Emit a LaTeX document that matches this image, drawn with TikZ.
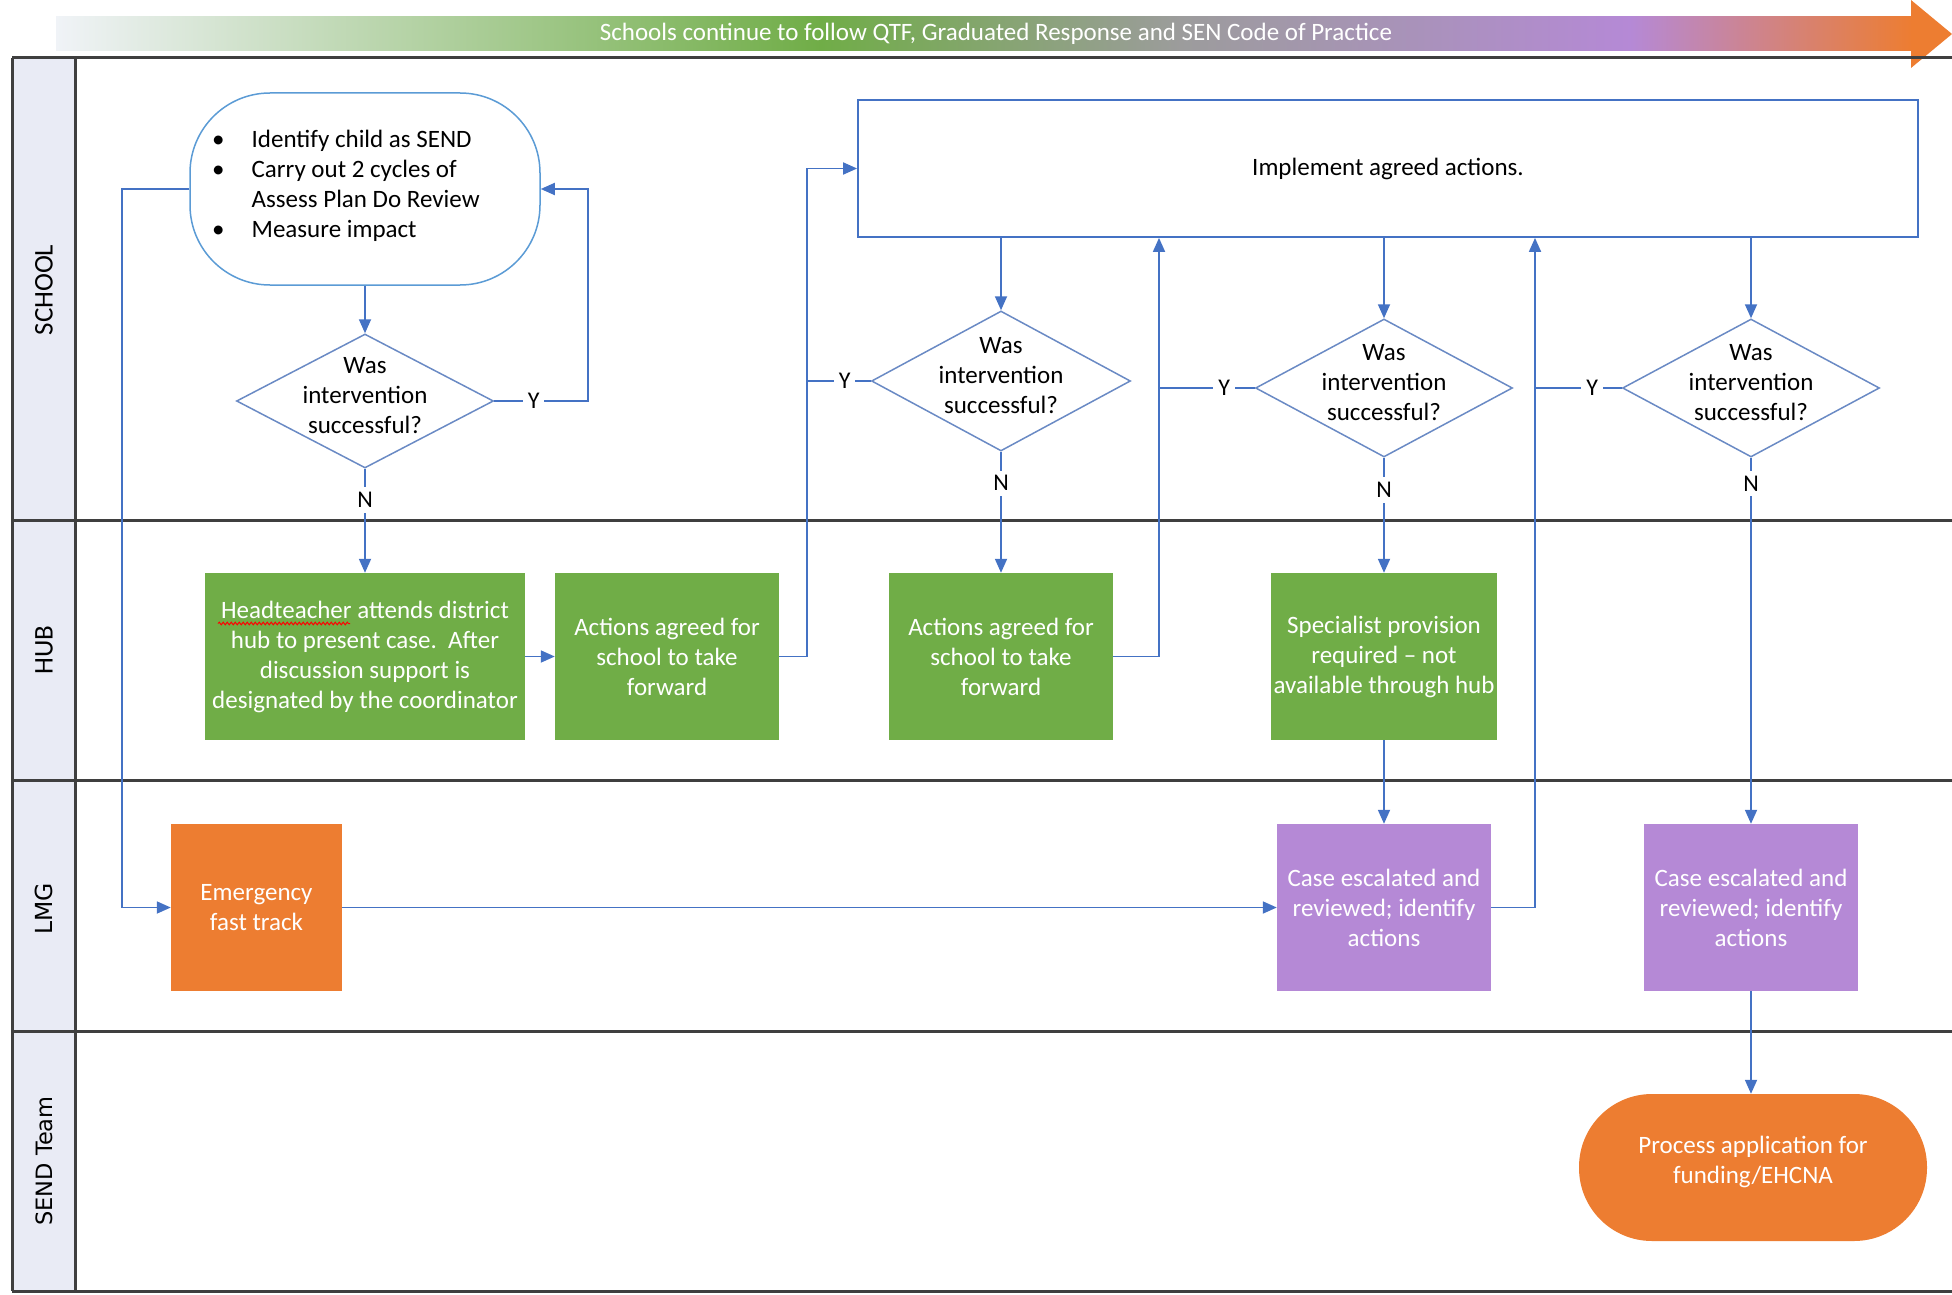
\documentclass[tikz,border=0pt]{standalone}
\usepackage{fontspec}
\setmainfont{Carlito}
\newfontfamily\dejavu{DejaVu Sans}
\usetikzlibrary{arrows.meta,shapes.geometric,calc,decorations.pathmorphing}
\definecolor{cblue}{HTML}{4472C4}
\definecolor{dblue}{HTML}{6A8AC4}
\definecolor{sblue}{HTML}{5B9BD5}
\definecolor{cgreen}{HTML}{70AD47}
\definecolor{corange}{HTML}{ED7D31}
\definecolor{cpurple}{HTML}{B589D6}
\definecolor{lanefill}{HTML}{E9EBF5}
\definecolor{laneline}{HTML}{3F3F3F}
\definecolor{bandstart}{HTML}{F0F3F7}
\definecolor{bandgray}{HTML}{9C9C9C}
\begin{document}
\begin{tikzpicture}[x=1pt,y=-1pt,
  bodyfont/.style={font=\fontsize{25}{30}\selectfont},
  txt/.style={bodyfont, align=center, inner sep=0pt},
  fbox/.style={rectangle, minimum height=167pt, inner sep=0pt, text=white, bodyfont, align=center},
  gbox/.style={fbox, fill=cgreen},
  obox/.style={fbox, fill=corange},
  pbox/.style={fbox, fill=cpurple},
  dia/.style={diamond, draw=dblue, line width=1.5pt, minimum width=257pt, minimum height=138pt, inner sep=0pt},
  conn/.style={draw=cblue, line width=1.8pt},
  arr/.style={conn, -{Triangle[length=14pt,width=12pt]}},
  yn/.style={fill=white, inner sep=5pt, font=\fontsize{24}{28}\selectfont},
  lanelbl/.style={rotate=90, inner sep=0pt},
  laneln/.style={draw=laneline, line width=3pt},
]
\useasboundingbox (0,0) rectangle (1952,1295);

% top gradient band
\shade[left color=bandstart, right color=cgreen] (56,17) rectangle (821,51);
\shade[left color=cgreen, right color=bandgray] (820,17) rectangle (1181,51);
\shade[left color=bandgray, right color=cpurple] (1180,17) rectangle (1631,51);
\shade[left color=cpurple, right color=corange] (1630,17) rectangle (1913,51);
\fill[corange] (1911,0) -- (1952,34) -- (1911,68) -- cycle;
\node[text=white, font=\fontsize{25}{28}\selectfont, inner sep=0pt] (band) at (996,34) {Schools continue to follow QTF, Graduated Response and SEN Code of Practice};

% lanes
\fill[lanefill] (12,58) rectangle (75,1291);
\draw[laneln] (12,58) -- (1952,58);
\draw[laneln] (12,520) -- (1952,520);
\draw[laneln] (12,780) -- (1952,780);
\draw[laneln] (12,1031) -- (1952,1031);
\draw[laneln] (12,1291) -- (1952,1291);
\draw[laneln] (12,58) -- (12,1291);
\draw[laneln] (75,58) -- (75,1291);
\node[lanelbl, font=\fontsize{27}{30}\selectfont] (lschool) at (44,290) {SCHOOL};
\node[lanelbl, font=\fontsize{27}{30}\selectfont] (lhub) at (44,650) {HUB};
\node[lanelbl, font=\dejavu\fontsize{23.5}{26}\selectfont] (llmg) at (44,909) {LMG};
\node[lanelbl, font=\dejavu\fontsize{22.5}{26}\selectfont] (lsend) at (44,1161) {SEND Team};

% start box
\node[draw=sblue, line width=1.5pt, rounded corners=80pt, minimum width=350pt, minimum height=192pt] (st) at (365,189) {};
\node[anchor=west, bodyfont, inner sep=0pt] (stt) at (212,186.5) {\begin{tabular}{@{}l@{\hspace{27pt}}l@{}}
\textbullet & Identify child as SEND\\
\textbullet & Carry out 2 cycles of\\
 & Assess Plan Do Review\\
\textbullet & Measure impact
\end{tabular}};

% implement box
\node[draw=cblue, line width=1.8pt, minimum width=1060pt, minimum height=137pt, inner sep=0pt] (im) at (1388,168.5) {};
\node[txt] (imt) at (im.center) {Implement agreed actions.};

% diamonds
\node[dia, minimum height=134pt] (d1) at (365,401) {};
\node[txt] (d1t) at ([yshift=5pt]d1.center) {Was\\intervention\\successful?};
\node[dia, minimum width=259pt, minimum height=140pt] (d2) at (1001,381) {};
\node[txt] (d2t) at ([yshift=5pt]d2.center) {Was\\intervention\\successful?};
\node[dia] (d3) at (1384,388) {};
\node[txt] (d3t) at ([yshift=5pt]d3.center) {Was\\intervention\\successful?};
\node[dia] (d4) at (1751,388) {};
\node[txt] (d4t) at ([yshift=5pt]d4.center) {Was\\intervention\\successful?};

% hub boxes
\node[gbox, minimum width=320pt] (hd) at (365,656.5) {Headteacher attends district\\hub to present case.\ \ After\\discussion support is\\designated by the coordinator};
\draw[red, line width=1pt, decorate, decoration={snake, amplitude=1.3pt, segment length=4pt}]
  ([shift={(-147,-33)}]hd.center) -- ([shift={(-15,-33)}]hd.center);
\node[gbox, minimum width=224pt] (a1) at (667,656.5) {Actions agreed for\\school to take\\forward};
\node[gbox, minimum width=224pt] (a2) at (1001,656.5) {Actions agreed for\\school to take\\forward};
\node[gbox, minimum width=226pt] (sp) at (1384,656.5) {Specialist provision\\required -- not\\available through hub};

% LMG boxes
\node[obox, minimum width=171pt] (em) at (256.5,907.5) {Emergency\\fast track};
\node[pbox, minimum width=214pt] (c1) at (1384,907.5) {Case escalated and\\reviewed; identify\\actions};
\node[pbox, minimum width=214pt] (c2) at (1751,907.5) {Case escalated and\\reviewed; identify\\actions};

% SEND team
\node[fbox, fill=corange, rounded corners=73pt, minimum width=348pt, minimum height=147pt] (pr) at (1753,1167.5) {};
\node[txt, text=white] (prt) at ([yshift=6pt]pr.center) {Process application for\\funding/EHCNA};

% junction columns
\coordinate (jl) at (122,0);
\coordinate (jr) at (588,0);
\coordinate (j1) at (807,0);
\coordinate (j2) at (1159,0);
\coordinate (j3) at (1535,0);

% connectors
\draw[arr] (st.south) -- (d1.north);
\draw[arr] (d1.east) -- node[yn,pos=.42]{Y} (d1.east -| jr) |- (st.east);
\draw[arr] (d1.south) -- node[yn,pos=.30]{N} (hd.north);
\draw[arr] (st.west) -- (st.west -| jl) |- (em.west);
\draw[arr] (hd.east) -- (a1.west);
\draw[arr] (a1.east) -- (a1.east -| j1) |- (im.west);
\draw[arr] (im.south -| d2.north) -- (d2.north);
\draw[arr] (im.south -| d3.north) -- (d3.north);
\draw[arr] (im.south -| d4.north) -- (d4.north);
\draw[conn] (d2.west) -- node[yn,pos=.41]{Y} (d2.west -| j1);
\draw[conn] (d3.west) -- node[yn,pos=.32]{Y} (d3.west -| j2);
\draw[conn] (d4.west) -- node[yn,pos=.34]{Y} (d4.west -| j3);
\draw[arr] (d2.south) -- node[yn,pos=.26]{N} (a2.north);
\draw[arr] (d3.south) -- node[yn,pos=.28]{N} (sp.north);
\draw[arr] (d4.south) -- node[yn,pos=.07]{N} (c2.north);
\draw[arr] (a2.east) -- (a2.east -| j2) -- (j2 |- im.south);
\draw[arr] (c1.east) -- (c1.east -| j3) -- (j3 |- im.south);
\draw[arr] (sp.south) -- (c1.north);
\draw[arr] (em.east) -- (c1.west);
\draw[arr] (c2.south) -- (c2.south |- pr.north);
\end{tikzpicture}
\end{document}
